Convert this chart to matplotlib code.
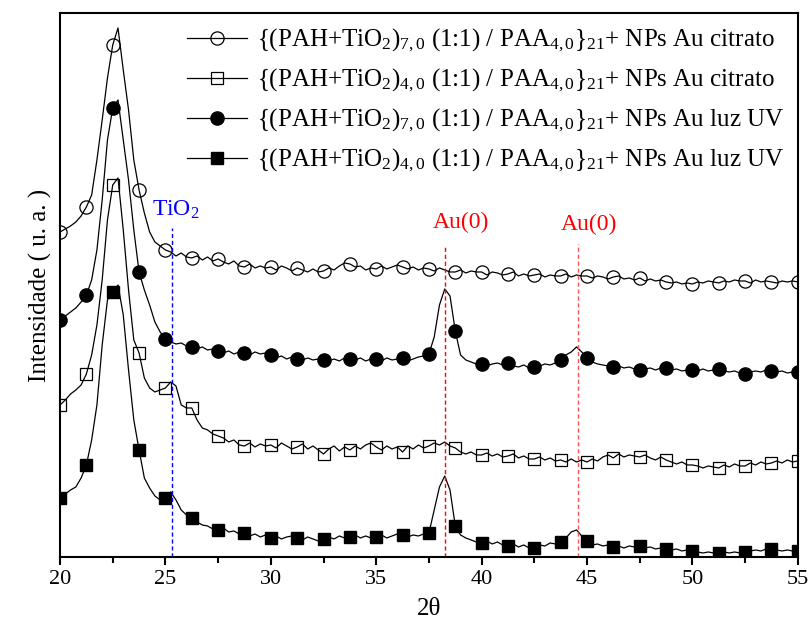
import numpy as np
import matplotlib
matplotlib.use("Agg")
import matplotlib.pyplot as plt
from matplotlib.ticker import MultipleLocator

plt.rcParams['font.family'] = ['Liberation Serif', 'DejaVu Serif']
plt.rcParams['mathtext.fontset'] = 'custom'
plt.rcParams['mathtext.rm'] = 'Liberation Serif'
plt.rcParams['mathtext.it'] = 'Liberation Serif:italic'

# 2theta grid, 0.25 step from 20 to 55
two_theta = np.arange(20, 55.001, 0.25)

# intensities (arbitrary units)
tio2_70_citrato = [
    325, 328, 331, 335, 341, 350, 362, 397, 437, 479, 512, 529, 487, 447, 397, 367, 344, 325, 315, 311,
    307, 305, 301, 304, 300, 299, 301, 297, 300, 296, 298, 295, 293, 296, 291, 290, 293, 289, 291, 289,
    290, 287, 291, 289, 286, 289, 287, 285, 288, 285, 286, 289, 287, 291, 294, 293, 290, 291, 287, 289,
    288, 291, 288, 290, 292, 290, 288, 290, 287, 289, 288, 286, 289, 287, 285, 285, 287, 284, 286, 285,
    285, 282, 285, 284, 282, 283, 285, 281, 283, 281, 282, 283, 280, 282, 281, 281, 283, 280, 282, 281,
    281, 279, 281, 280, 278, 280, 281, 278, 279, 277, 279, 276, 278, 276, 277, 275, 274, 275, 273, 274,
    273, 275, 274, 276, 275, 274, 276, 275, 277, 276, 276, 274, 277, 275, 276, 275, 274, 276, 275, 276,
    275]

tio2_40_citrato = [
    152, 157, 163, 167, 172, 183, 202, 232, 277, 337, 372, 379, 327, 267, 217, 204, 179, 169, 165, 167,
    169, 175, 171, 152, 149, 149, 137, 129, 127, 123, 121, 119, 115, 117, 112, 111, 114, 110, 113, 111,
    112, 109, 114, 111, 108, 110, 113, 108, 111, 107, 103, 108, 111, 106, 110, 107, 111, 108, 112, 114,
    110, 107, 111, 108, 110, 105, 111, 108, 112, 109, 111, 114, 112, 115, 111, 109, 105, 103, 105, 102,
    102, 104, 101, 103, 100, 101, 103, 99, 101, 98, 98, 100, 97, 99, 96, 97, 95, 98, 95, 97,
    95, 98, 96, 100, 102, 99, 103, 100, 102, 101, 100, 102, 99, 97, 100, 97, 95, 93, 95, 92,
    92, 91, 89, 91, 90, 89, 92, 90, 93, 91, 91, 94, 92, 95, 93, 94, 96, 94, 97, 95,
    96]

tio2_70_uv = [
    237, 241, 245, 249, 255, 262, 277, 307, 357, 417, 449, 457, 417, 377, 327, 285, 267, 252, 235, 225,
    218, 215, 213, 214, 211, 210, 208, 210, 207, 208, 206, 204, 206, 203, 205, 204, 202, 205, 203, 204,
    202, 199, 201, 198, 200, 198, 197, 199, 197, 198, 197, 196, 198, 196, 199, 198, 197, 199, 196, 198,
    198, 196, 199, 197, 198, 199, 196, 198, 200, 201, 203, 220, 252, 268, 261, 226, 202, 197, 195, 193,
    193, 191, 193, 194, 192, 194, 191, 190, 192, 189, 190, 191, 193, 192, 194, 197, 202, 205, 210, 205,
    199, 195, 193, 192, 191, 190, 191, 189, 190, 188, 187, 188, 189, 187, 189, 189, 187, 188, 186, 187,
    187, 186, 188, 186, 187, 188, 186, 185, 186, 184, 183, 185, 186, 185, 187, 186, 185, 186, 184, 185,
    185]

tio2_40_uv = [
    59, 63, 67, 70, 79, 92, 117, 152, 212, 257, 265, 272, 242, 187, 137, 107, 79, 69, 61, 57,
    59, 65, 57, 47, 42, 39, 35, 32, 31, 28, 27, 29, 25, 26, 23, 24, 21, 23, 20, 22,
    19, 21, 18, 20, 21, 19, 17, 20, 18, 16, 18, 20, 18, 21, 19, 20, 22, 19, 21, 19,
    20, 22, 19, 21, 23, 22, 20, 22, 21, 23, 24, 47, 70, 81, 67, 31, 22, 19, 17, 15,
    14, 16, 13, 15, 12, 11, 13, 10, 12, 9, 9, 12, 11, 14, 13, 15, 19, 25, 27, 21,
    16, 12, 13, 11, 12, 10, 11, 9, 11, 10, 11, 9, 10, 8, 9, 8, 7, 8, 6, 7,
    6, 5, 4, 5, 4, 4, 5, 4, 5, 4, 5, 6, 7, 6, 8, 8, 7, 6, 7, 6,
    6]

labels = [
    r'{(PAH+TiO$_2$)$_{7,0}$ (1:1) / PAA$_{4,0}$}$_{21}$+ NPs Au citrato',
    r'{(PAH+TiO$_2$)$_{4,0}$ (1:1) / PAA$_{4,0}$}$_{21}$+ NPs Au citrato',
    r'{(PAH+TiO$_2$)$_{7,0}$ (1:1) / PAA$_{4,0}$}$_{21}$+ NPs Au luz UV',
    r'{(PAH+TiO$_2$)$_{4,0}$ (1:1) / PAA$_{4,0}$}$_{21}$+ NPs Au luz UV',
]

fig = plt.figure(figsize=(8.09, 6.24), dpi=100)
ax = fig.add_axes([0.0742, 0.1074, 0.912, 0.8718])

ax.plot(two_theta, tio2_70_citrato, color='black', lw=0.9, marker='o', ms=9.5,
        mfc='none', mec='black', mew=0.9, markevery=5, label=labels[0])
ax.plot(two_theta, tio2_40_citrato, color='black', lw=0.9, marker='s', ms=8.5,
        mfc='none', mec='black', mew=0.9, markevery=5, label=labels[1])
ax.plot(two_theta, tio2_70_uv, color='black', lw=0.9, marker='o', ms=9.5,
        mfc='black', mec='black', markevery=5, label=labels[2])
ax.plot(two_theta, tio2_40_uv, color='black', lw=0.9, marker='s', ms=8.5,
        mfc='black', mec='black', markevery=5, label=labels[3])

# reference lines
ax.plot([25.3, 25.3], [0, 329], color='blue', lw=1, ls=(0, (3, 2)))
ax.plot([38.25, 38.25], [0, 312], color='red', lw=1, ls=(0, (3, 2)))
ax.plot([44.55, 44.55], [0, 313], color='#ff5555', lw=1, ls=(0, (3, 2)))
ax.text(25.5, 336, r'TiO$_2$', color='blue', fontsize=17, ha='center', va='bottom')
ax.text(39.0, 324, 'Au(0)', color='red', fontsize=17, ha='center', va='bottom')
ax.text(45.1, 322, 'Au(0)', color='red', fontsize=17, ha='center', va='bottom')

ax.set_xlim(20, 55)
ax.set_ylim(0, 544)
ax.xaxis.set_major_locator(MultipleLocator(5))
ax.xaxis.set_minor_locator(MultipleLocator(2.5))
ax.tick_params(axis='x', which='major', direction='out', length=6, width=1.5, labelsize=16)
ax.tick_params(axis='x', which='minor', direction='out', length=4, width=1.5)
ax.set_yticks([])
for s in ax.spines.values():
    s.set_linewidth(1.5)

ax.set_xlabel('2θ', fontsize=18, labelpad=6)
ax.set_ylabel('Intensidade ( u. a. )', fontsize=18, labelpad=6)

ax.legend(loc='upper right', frameon=False, fontsize=18, handlelength=2.4,
          labelspacing=0.5, borderaxespad=0.15, handletextpad=0.4)

fig.savefig('out.png', dpi=100)
